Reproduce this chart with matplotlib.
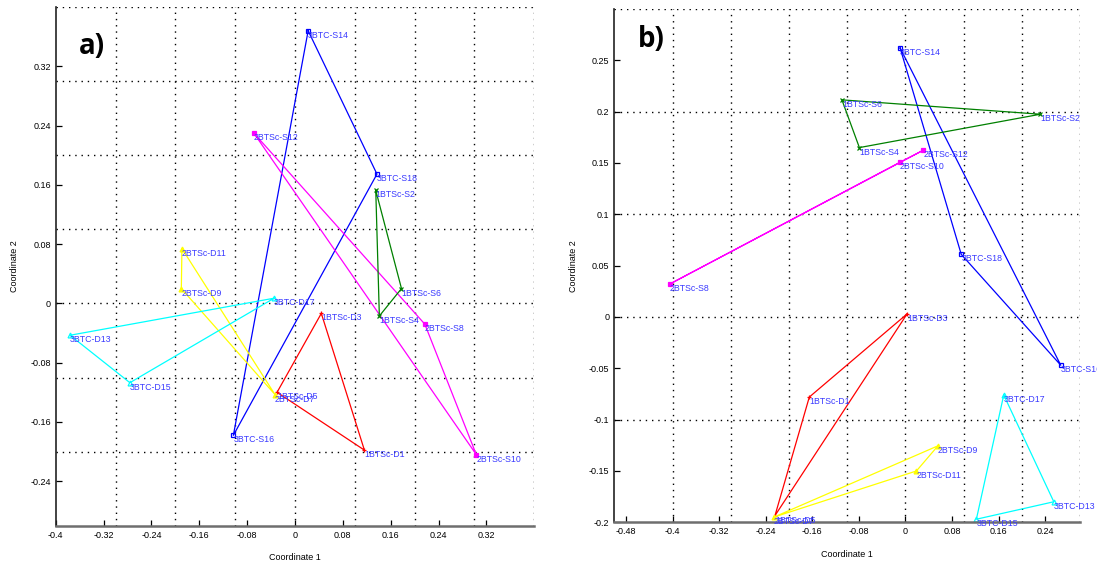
import numpy as np
import matplotlib
matplotlib.use("Agg")
import matplotlib.pyplot as plt
from matplotlib.ticker import FixedLocator, FuncFormatter

plt.rcParams['font.family'] = ['Liberation Sans', 'DejaVu Sans']

# panel a) coordinates, one triangle per group
a_groups = {
	'3BTC-S':  (['3BTC-S14', '3BTC-S18', '3BTC-S16'], [0.022, 0.137, -0.103], [0.368, 0.1745, -0.178]),
	'2BTSc-S': (['2BTSc-S12', '2BTSc-S8', '2BTSc-S10'], [-0.069, 0.217, 0.303], [0.230, -0.028, -0.204]),
	'1BTSc-S': (['1BTSc-S2', '1BTSc-S6', '1BTSc-S4'], [0.135, 0.178, 0.141], [0.1525, 0.020, -0.017]),
	'1BTSc-D': (['1BTSc-D3', '1BTSc-D1', '1BTSc-D5'], [0.044, 0.116, -0.030], [-0.0135, -0.198, -0.120]),
	'2BTSc-D': (['2BTSc-D11', '2BTSc-D9', '2BTSc-D7'], [-0.189, -0.190, -0.0335], [0.074, 0.020, -0.123]),
	'3BTC-D':  (['3BTC-D17', '3BTC-D13', '3BTC-D15'], [-0.035, -0.376, -0.276], [0.007, -0.043, -0.107]),
}
a_xticks = [-0.4, -0.32, -0.24, -0.16, -0.08, 0, 0.08, 0.16, 0.24, 0.32]
a_yticks = [-0.24, -0.16, -0.08, 0, 0.08, 0.16, 0.24, 0.32]

# panel b)
b_groups = {
	'3BTC-S':  (['3BTC-S14', '3BTC-S18', '3BTC-S16'], [-0.009, 0.096, 0.267], [0.262, 0.061, -0.047]),
	'2BTSc-S': (['2BTSc-S12', '2BTSc-S10', '2BTSc-S8'], [0.031, -0.010, -0.405], [0.1625, 0.1505, 0.032]),
	'1BTSc-S': (['1BTSc-S2', '1BTSc-S6', '1BTSc-S4'], [0.232, -0.109, -0.079], [0.1975, 0.2115, 0.165]),
	'1BTSc-D': (['1BTSc-D3', '1BTSc-D1', '1BTSc-D5'], [0.003, -0.165, -0.224], [0.003, -0.078, -0.1935]),
	'2BTSc-D': (['2BTSc-D9', '2BTSc-D11', '2BTSc-D7'], [0.056, 0.019, -0.226], [-0.1255, -0.150, -0.195]),
	'3BTC-D':  (['3BTC-D17', '3BTC-D13', '3BTC-D15'], [0.169, 0.255, 0.122], [-0.076, -0.180, -0.197]),
}
b_xticks = [-0.48, -0.4, -0.32, -0.24, -0.16, -0.08, 0, 0.08, 0.16, 0.24]
b_yticks = [-0.2, -0.15, -0.1, -0.05, 0, 0.05, 0.1, 0.15, 0.2, 0.25]

styles = {
	'3BTC-S':  dict(color='blue', marker='s', mfc='none'),
	'2BTSc-S': dict(color='magenta', marker='s', mfc='magenta'),
	'1BTSc-S': dict(color='green', marker='x', mfc='none'),
	'1BTSc-D': dict(color='red', marker='+', mfc='none'),
	'2BTSc-D': dict(color='yellow', marker='^', mfc='yellow'),
	'3BTC-D':  dict(color='cyan', marker='^', mfc='none'),
}

dot = (0, (1, 3.5))
fmt = FuncFormatter(lambda v, p: '0' if abs(v) < 1e-9 else ('%g' % round(v, 2)))

def draw(ax, groups, xlim, ylim, xticks, yticks, grid, tag, tagpos):
	for key, (names, xs, ys) in groups.items():
		st = styles[key]
		# closed triangle
		ax.plot(xs + xs[:1], ys + ys[:1], color=st['color'], lw=0.9)
		ax.plot(xs, ys, linestyle='none', marker=st['marker'], color=st['color'],
				mfc=st['mfc'], ms=3.5, mew=0.9)
		for n, x, y in zip(names, xs, ys):
			ax.text(x, y, n, color='#3a3aff', fontsize=6.3, ha='left', va='top')
	ax.set_xlim(xlim)
	ax.set_ylim(ylim)
	ax.xaxis.set_major_locator(FixedLocator(xticks))
	ax.yaxis.set_major_locator(FixedLocator(yticks))
	ax.xaxis.set_major_formatter(fmt)
	ax.yaxis.set_major_formatter(fmt)
	# dotted grid on a different spacing than the ticks
	for gx in np.arange(xlim[0] + grid, xlim[1] + grid / 2, grid):
		ax.axvline(gx, color='black', ls=dot, lw=1.0, zorder=0)
	for gy in np.arange(ylim[0] + grid, ylim[1] + grid / 2, grid):
		ax.axhline(gy, color='black', ls=dot, lw=1.0, zorder=0)
	ax.spines['top'].set_visible(False)
	ax.spines['right'].set_visible(False)
	ax.spines['left'].set_color('#222222')
	ax.spines['bottom'].set_color('#6e6e6e')
	ax.spines['left'].set_linewidth(1.2)
	ax.spines['bottom'].set_linewidth(1.8)
	ax.tick_params(direction='in', length=4, width=0.9, labelsize=6.5)
	ax.set_xlabel('Coordinate 1', fontsize=6.5, labelpad=10)
	ax.set_ylabel('Coordinate 2', fontsize=6.5, labelpad=8)
	ax.text(tagpos[0], tagpos[1], tag, transform=ax.transAxes, fontsize=20, fontweight='bold',
			ha='left', va='center', family=['Open Sans', 'DejaVu Sans'])

fig = plt.figure(figsize=(10.97, 5.66), dpi=100)
ax1 = fig.add_axes([55.7 / 1097, 1 - 525.7 / 566, (534.3 - 55.7) / 1097, (525.7 - 7) / 566])
ax2 = fig.add_axes([614.3 / 1097, 1 - 522.3 / 566, (1080 - 614.3) / 1097, (522.3 - 9) / 566])

draw(ax1, a_groups, (-0.4, 0.4), (-0.3, 0.4), a_xticks, a_yticks, 0.1, 'a)', (0.048, 0.923))
draw(ax2, b_groups, (-0.5, 0.3), (-0.2, 0.3), b_xticks, b_yticks, 0.1, 'b)', (0.05, 0.94))

fig.savefig('out.png', dpi=100)
